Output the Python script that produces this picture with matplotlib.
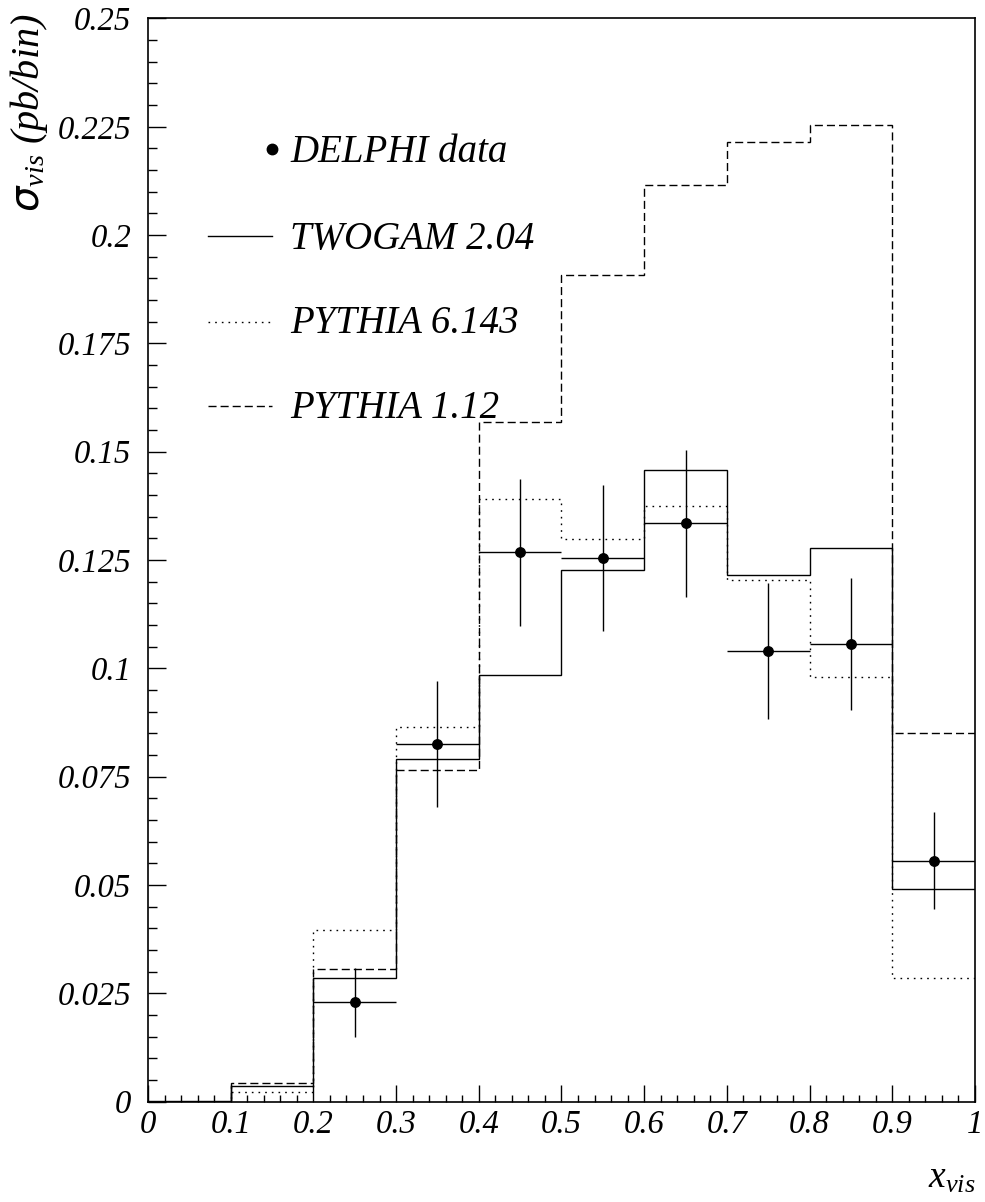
import numpy as np
import matplotlib.pyplot as plt

plt.rcParams['font.family'] = 'Liberation Serif'
plt.rcParams['font.style'] = 'italic'
plt.rcParams['mathtext.fontset'] = 'custom'
plt.rcParams['mathtext.rm'] = 'Liberation Serif'
plt.rcParams['mathtext.it'] = 'Liberation Serif:italic'
plt.rcParams['mathtext.sf'] = 'DejaVu Sans'

# bin edges in x_vis
edges = np.round(np.arange(0, 1.01, 0.1), 2)

# model predictions (pb/bin)
twogam = [0.0002, 0.0036, 0.0285, 0.0790, 0.0985, 0.1228, 0.1458, 0.1215, 0.1278, 0.0491]
pythia6 = [0.0, 0.0021, 0.0396, 0.0865, 0.1391, 0.1299, 0.1374, 0.1204, 0.0981, 0.0285]
pythia1 = [0.0, 0.0043, 0.0305, 0.0765, 0.1568, 0.1908, 0.2115, 0.2215, 0.2255, 0.0851]

# DELPHI data
data_x = [0.25, 0.35, 0.45, 0.55, 0.65, 0.75, 0.85, 0.95]
data_y = [0.0229, 0.0825, 0.1268, 0.1255, 0.1335, 0.1040, 0.1056, 0.0556]
data_err = [0.0080, 0.0145, 0.0170, 0.0168, 0.0170, 0.0156, 0.0152, 0.0112]

legend_labels = ['DELPHI data', 'TWOGAM 2.04', 'PYTHIA 6.143', 'PYTHIA 1.12']

yticks = np.arange(0, 0.2501, 0.025)
ytick_labels = ['0', '0.025', '0.05', '0.075', '0.1', '0.125', '0.15',
                '0.175', '0.2', '0.225', '0.25']
xtick_labels = ['0', '0.1', '0.2', '0.3', '0.4', '0.5', '0.6', '0.7', '0.8', '0.9', '1']

dash = (0, (5.8, 2.9))
dot = (0, (1.2, 3.6))

fig = plt.figure(figsize=(9.85, 12.02), dpi=100)
ax = fig.add_axes([0.15025, 0.08353, 0.8396, 0.90108])

ax.stairs(twogam, edges, baseline=None, color='black', lw=1.0)
ax.stairs(pythia6, edges, baseline=None, color='black', lw=1.0, linestyle=dot)
ax.stairs(pythia1, edges, baseline=None, color='black', lw=1.0, linestyle=dash)

ax.errorbar(data_x, data_y, xerr=0.05, yerr=data_err, fmt='o', color='black',
            ms=6.8, elinewidth=1.0, capsize=0)

ax.set_xlim(0, 1)
ax.set_ylim(0, 0.25)
ax.set_xticks(edges)
ax.set_xticklabels(xtick_labels)
ax.set_xticks(np.arange(0, 1.001, 0.02), minor=True)
ax.set_yticks(yticks)
ax.set_yticklabels(ytick_labels)
ax.set_yticks(np.arange(0, 0.2501, 0.005), minor=True)

ax.tick_params(axis='both', which='both', direction='in', top=False, right=False,
               labelsize=23.5, width=1.0)
ax.tick_params(axis='x', which='major', length=12.2, pad=6)
ax.tick_params(axis='x', which='minor', length=5)
ax.tick_params(axis='y', which='major', length=13, pad=12)
ax.tick_params(axis='y', which='minor', length=6.5)
for s in ax.spines.values():
    s.set_linewidth(1.2)

# legend drawn by hand, ROOT style
tr = ax.transAxes
ax.plot([0.1494], [0.2198 / 0.25], 'o', color='black', ms=7.5, transform=tr)
ax.plot([0.0726, 0.150], [0.1998 / 0.25] * 2, color='black', lw=1.0, transform=tr)
ax.plot([0.0726, 0.150], [0.1799 / 0.25] * 2, color='black', lw=1.0, linestyle=dot, transform=tr)
ax.plot([0.0726, 0.150], [0.1605 / 0.25] * 2, color='black', lw=1.0, linestyle=dash, transform=tr)
for lab, yb in zip(legend_labels, [0.2169, 0.1969, 0.1774, 0.1578]):
    ax.text(0.1717, yb / 0.25, lab, transform=tr, fontsize=28, va='baseline', ha='left')

fig.text(0.98985, 0.0116, r'$x_{vis}$', fontsize=27, ha='right', va='baseline')
fig.text(0.040, 0.9892, r'$\mathsf{\sigma}_{vis}$ (pb/bin)', fontsize=29,
         rotation=90, rotation_mode='anchor', ha='right', va='baseline')

fig.savefig('out.png', dpi=100)
